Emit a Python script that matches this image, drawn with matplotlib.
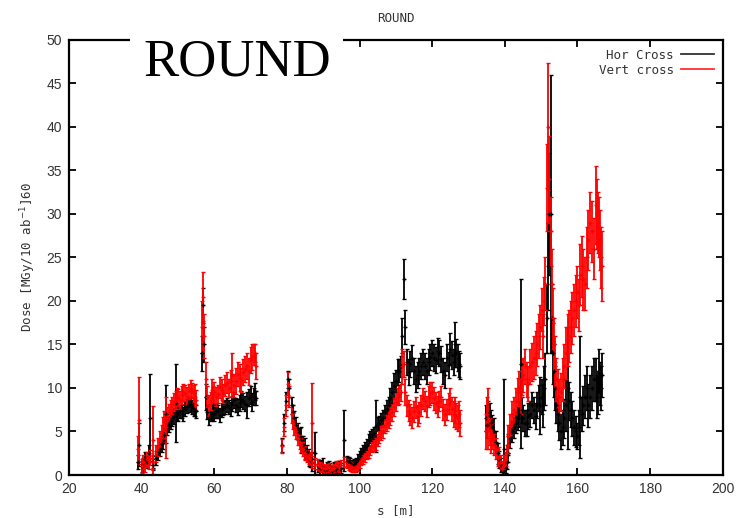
import numpy as np
import matplotlib.pyplot as plt
from matplotlib.lines import Line2D

# position along the beam line [m] -- shared by both series
# (first pass at ~1 m steps, then the in-between readings)
s_pos = [39.0, 39.4, 40.0, 40.5, 41.0, 41.5, 42.0, 42.3, 43.0, 43.2, 44.0, 45.0,
         46.0, 46.6, 47.0, 48.0, 49.0, 49.4, 50.0, 51.0, 52.0, 53.0, 54.0, 54.8,
         56.6, 57.0, 57.3, 57.7, 58.0, 59.0, 59.7, 60.0, 61.0, 62.0, 63.0, 64.0,
         65.0, 66.0, 67.0, 68.0, 69.0, 70.0, 71.0, 71.5,
         78.7, 79.2, 79.7, 80.2, 80.7, 81.3, 82.0, 83.0, 84.0, 85.0, 86.0, 86.8,
         87.0, 87.8, 88.5, 89.0, 90.0, 91.0, 92.0, 93.0, 94.0, 94.8,
         95.7, 96.5, 97.5, 98.5, 99.5, 100.5, 101.5, 102.5, 103.5, 104.5, 105.5,
         106.5, 107.5, 108.5, 109.5, 110.5, 111.3, 111.8, 112.2, 112.6, 113.2,
         114.0, 115.0, 116.0, 117.0, 118.0, 119.0, 120.0, 121.0, 122.0, 123.0,
         124.0, 125.0, 126.0, 126.3, 127.0, 127.6,
         134.8, 135.5, 136.2, 137.0, 138.0, 139.0, 139.5, 139.8, 140.5, 141.0,
         142.0, 143.0, 144.0, 144.4, 145.0, 146.0, 147.0, 148.0, 149.0, 149.6,
         150.2, 150.6, 151.0, 151.5, 151.8, 152.2, 152.7, 153.1, 153.6, 154.2,
         155.0, 156.0, 156.8, 157.4, 158.2, 159.0, 160.0, 160.6, 161.2, 162.0,
         163.0, 164.0, 165.0, 165.6, 166.2, 166.8,
         # in-between readings
         44.5, 45.5, 46.3, 47.5, 48.5, 49.7, 50.5, 51.5, 52.5, 53.5, 54.4, 55.0,
         58.5, 59.3, 60.5, 61.5, 62.5, 63.5, 64.5, 65.5, 66.5, 67.5, 68.5, 69.5,
         70.5, 71.3,
         81.7, 82.5, 83.5, 84.5, 85.5, 86.4, 89.5, 90.5, 91.5, 92.5, 93.5, 94.4,
         97.0, 98.0, 99.0, 100.0, 101.0, 102.0, 103.0, 104.0, 105.0, 106.0,
         107.0, 108.0, 109.0, 110.0, 111.0, 113.6, 114.5, 115.5, 116.5, 117.5,
         118.5, 119.5, 120.5, 121.5, 122.5, 123.5, 124.5, 125.5, 126.6, 127.3,
         135.2, 135.8, 136.6, 137.5, 138.5, 140.2, 140.8, 141.5, 142.5, 143.5,
         144.7, 145.5, 146.5, 147.5, 148.5, 149.3, 150.8, 153.3, 153.9, 154.6,
         155.5, 156.4, 157.8, 158.6, 159.5, 160.3, 161.6, 162.5, 163.5, 164.5,
         165.3, 165.9, 166.5]

hor_cross = [1.5, 3.5, 1.0, 1.2, 1.8, 1.5, 2.5, 6.6, 1.2, 1.5, 2.0, 3.0,
             4.0, 7.0, 5.5, 6.2, 6.8, 8.3, 7.0, 7.3, 7.6, 8.0, 7.8, 7.5,
             14.0, 19.5, 15.0, 9.0, 7.2, 6.8, 8.0, 7.0, 7.3, 7.5, 7.8, 7.8,
             8.2, 8.0, 8.3, 8.5, 8.0, 9.2, 9.0, 8.8,
             3.5, 6.0, 8.5, 11.0, 10.0, 8.0, 6.5, 5.0, 4.0, 3.0, 2.0, 1.8,
             1.5, 2.5, 1.0, 0.8, 0.8, 0.7, 0.6, 0.8, 0.9, 0.8,
             4.0, 1.6, 1.4, 1.3, 1.8, 2.5, 3.2, 4.0, 4.6, 5.6, 6.0,
             6.6, 7.6, 8.8, 10.2, 11.8, 12.5, 16.0, 22.5, 17.0, 13.0,
             12.8, 12.0, 11.5, 12.5, 12.5, 13.0, 14.0, 13.2, 14.0, 12.0,
             13.5, 14.5, 13.0, 15.0, 13.5, 12.5,
             6.5, 7.0, 6.0, 5.0, 2.5, 1.2, 0.4, 3.0, 1.5, 3.5,
             5.0, 6.0, 7.0, 12.8, 6.5, 6.0, 7.0, 7.5, 8.0, 8.0,
             9.0, 8.0, 11.0, 18.0, 24.0, 30.0, 30.0, 18.0, 12.0, 8.0,
             6.0, 5.5, 8.0, 10.0, 7.5, 5.5, 4.5, 9.0, 7.0, 9.0,
             8.0, 10.0, 11.0, 9.5, 10.5, 11.5,
             2.5, 3.6, 4.6, 5.8, 6.5, 7.2, 7.3, 7.0, 7.9, 8.2, 7.6, 7.3,
             6.5, 7.0, 7.4, 6.9, 7.7, 8.0, 7.6, 8.6, 7.8, 8.7, 8.2, 8.9,
             8.4, 9.6,
             7.2, 5.8, 4.4, 3.5, 2.6, 1.7, 1.0, 0.6, 0.9, 0.5, 0.7, 1.0,
             1.5, 1.2, 1.5, 2.2, 2.9, 3.5, 4.4, 4.8, 5.9, 6.3,
             7.2, 8.0, 9.5, 10.8, 12.0, 11.8, 13.4, 11.0, 12.0, 13.0,
             12.0, 13.6, 13.5, 14.3, 13.3, 11.5, 12.6, 13.8, 14.0, 12.8,
             5.8, 6.8, 5.5, 3.8, 1.8, 0.8, 2.5, 4.3, 5.5, 6.5,
             7.5, 6.0, 6.8, 8.0, 6.8, 8.8, 10.0, 14.0, 10.0, 7.0,
             5.0, 6.5, 8.5, 6.5, 5.0, 5.5, 8.0, 10.0, 9.0, 11.0,
             9.0, 12.0, 10.0]
hor_err = [0.8, 2.5, 0.6, 0.7, 0.8, 0.7, 1.0, 5.0, 0.6, 0.7, 0.8, 0.8,
           1.0, 3.3, 0.9, 0.9, 0.9, 4.5, 0.8, 0.8, 0.8, 0.8, 0.8, 0.7,
           2.0, 2.0, 2.0, 1.5, 0.8, 0.6, 1.5, 0.8, 0.8, 0.8, 0.8, 0.8,
           0.9, 0.8, 0.9, 0.9, 1.5, 1.0, 1.0, 0.8,
           0.8, 1.0, 1.0, 1.0, 1.0, 1.0, 0.9, 1.0, 1.5, 1.2, 1.0, 0.8,
           1.0, 2.4, 0.7, 0.8, 1.2, 0.8, 0.8, 0.7, 0.7, 0.6,
           3.5, 0.6, 0.6, 0.5, 0.6, 0.6, 0.6, 0.7, 0.7, 3.0, 0.8,
           0.9, 1.0, 1.2, 1.5, 1.5, 1.2, 2.0, 2.3, 2.0, 1.5,
           1.5, 1.5, 1.5, 1.5, 1.5, 1.5, 1.5, 1.5, 1.5, 1.5,
           1.5, 1.8, 1.5, 2.6, 1.5, 1.5,
           1.5, 1.5, 1.5, 1.5, 1.2, 0.8, 0.4, 8.0, 0.8, 1.2,
           1.2, 1.2, 1.5, 9.7, 1.5, 1.5, 1.5, 1.5, 1.5, 3.3,
           2.0, 2.5, 3.0, 4.0, 5.0, 7.0, 16.0, 4.0, 3.0, 2.0,
           2.0, 2.0, 3.0, 7.0, 2.0, 2.0, 1.5, 7.0, 2.0, 2.5,
           2.5, 2.5, 2.5, 2.5, 2.5, 2.5,
           0.8, 0.9, 0.9, 0.9, 0.9, 0.9, 0.8, 0.8, 0.8, 0.8, 0.8, 0.7,
           0.7, 0.7, 0.8, 0.8, 0.8, 0.8, 0.8, 0.9, 0.9, 0.9, 0.9, 1.0,
           1.0, 1.0,
           0.9, 0.9, 1.0, 1.0, 0.9, 0.8, 0.7, 0.6, 0.7, 0.6, 0.6, 0.6,
           0.6, 0.5, 0.5, 0.6, 0.6, 0.6, 0.7, 0.7, 0.8, 0.8,
           0.9, 1.0, 1.2, 1.3, 1.3, 1.5, 1.5, 1.5, 1.5, 1.5,
           1.5, 1.5, 1.5, 1.5, 1.5, 1.5, 1.5, 1.6, 1.6, 1.5,
           1.5, 1.5, 1.4, 1.3, 1.0, 0.6, 1.0, 1.2, 1.2, 1.3,
           1.5, 1.5, 1.5, 1.5, 1.5, 1.5, 2.5, 3.5, 2.5, 2.0,
           2.0, 2.2, 2.2, 2.0, 1.8, 2.0, 2.2, 2.5, 2.5, 2.5,
           2.5, 2.5, 2.5]

vert_cross = [3.0, 6.3, 1.0, 1.5, 1.2, 1.8, 1.5, 2.0, 1.5, 4.0, 2.5, 4.0,
              5.5, 5.5, 6.8, 7.6, 8.4, 8.6, 8.9, 9.2, 9.4, 9.6, 9.7, 9.0,
              17.0, 20.5, 16.0, 11.0, 9.0, 8.5, 9.2, 9.5, 9.3, 9.8, 10.3, 10.0,
              11.5, 10.8, 11.2, 11.8, 12.5, 13.2, 13.8, 12.5,
              3.3, 5.5, 8.0, 10.5, 9.0, 7.0, 5.5, 4.2, 3.5, 2.5, 2.0, 6.0,
              1.5, 1.3, 1.2, 1.0, 0.8, 0.8, 0.6, 0.8, 1.0, 1.2,
              1.5, 1.3, 1.0, 0.8, 1.0, 1.6, 2.0, 2.6, 3.2, 3.6, 4.4,
              5.0, 6.0, 6.8, 7.8, 9.0, 9.5, 12.5, 12.8, 9.5, 8.0,
              7.0, 7.3, 6.8, 8.0, 8.5, 9.0, 9.5, 8.3, 8.5, 7.5,
              7.5, 8.5, 7.0, 7.5, 6.5, 6.0,
              5.0, 6.5, 4.0, 3.5, 2.0, 1.5, 1.0, 1.5, 2.5, 4.5,
              7.0, 8.5, 10.0, 9.0, 11.5, 11.0, 12.5, 13.5, 15.0, 17.0,
              19.0, 16.0, 22.0, 33.0, 40.0, 34.0, 28.0, 22.0, 15.0, 11.0,
              9.0, 11.0, 14.0, 15.5, 17.0, 19.0, 21.0, 23.0, 24.0, 22.0,
              27.0, 28.0, 31.0, 29.0, 27.0, 24.0,
              3.2, 4.8, 6.2, 7.2, 8.0, 9.0, 8.6, 9.5, 9.1, 9.9, 9.4, 8.6,
              8.0, 9.8, 9.0, 10.1, 9.4, 10.6, 10.8, 10.3, 11.6, 10.9, 12.2, 11.9,
              13.6, 14.0,
              6.2, 5.0, 3.8, 3.0, 2.2, 1.8, 0.9, 0.7, 0.9, 0.7, 1.1, 0.9,
              1.1, 0.9, 0.8, 1.3, 1.8, 2.3, 2.9, 3.4, 4.0, 4.8,
              5.6, 6.3, 7.2, 8.4, 9.2, 7.4, 6.6, 7.8, 7.2, 8.8,
              7.9, 9.4, 8.8, 7.9, 9.0, 7.0, 8.2, 7.6, 6.8, 7.0,
              7.0, 5.0, 4.5, 3.0, 2.2, 1.8, 3.5, 5.8, 7.5, 9.5,
              11.0, 12.5, 10.5, 13.0, 14.0, 16.0, 20.0, 18.0, 13.0, 10.0,
              9.5, 12.5, 16.0, 18.0, 20.0, 19.5, 22.5, 25.0, 29.0, 26.0,
              30.0, 28.5, 25.0]
vert_err = [1.5, 5.0, 0.8, 0.8, 0.8, 0.9, 0.8, 0.9, 0.8, 3.9, 1.0, 1.0,
            1.2, 3.5, 1.0, 1.0, 1.0, 1.0, 1.0, 1.0, 0.9, 0.9, 0.9, 1.5,
            3.0, 2.8, 2.5, 2.0, 1.2, 1.0, 1.0, 1.2, 1.0, 1.2, 1.2, 1.0,
            2.5, 1.5, 1.5, 1.5, 1.5, 1.5, 1.2, 1.5,
            0.8, 1.0, 1.2, 1.3, 1.2, 1.0, 0.9, 0.8, 0.8, 0.8, 0.7, 4.6,
            0.7, 0.6, 0.6, 0.5, 0.5, 0.5, 0.5, 0.5, 0.5, 0.5,
            0.6, 0.5, 0.5, 0.5, 0.5, 0.5, 0.5, 0.6, 0.6, 0.7, 0.7,
            0.8, 0.9, 1.0, 1.0, 1.0, 1.0, 2.0, 1.5, 1.5, 1.2,
            1.2, 1.2, 1.2, 1.2, 1.2, 1.2, 1.2, 1.2, 1.2, 1.2,
            1.2, 1.5, 1.5, 1.5, 1.5, 1.5,
            2.0, 3.5, 1.5, 1.2, 1.0, 0.8, 0.6, 0.8, 1.0, 1.2,
            1.5, 1.5, 2.0, 2.0, 2.0, 2.0, 2.0, 2.5, 2.5, 2.5,
            2.5, 2.5, 3.0, 5.0, 7.3, 5.0, 4.0, 4.0, 3.0, 2.5,
            2.0, 2.5, 3.0, 3.0, 3.0, 3.0, 3.0, 3.5, 3.5, 3.0,
            3.5, 3.5, 4.5, 3.5, 3.5, 4.0,
            1.0, 1.0, 1.1, 1.0, 1.0, 1.0, 1.0, 1.0, 1.0, 1.0, 1.0, 1.2,
            1.2, 1.2, 1.1, 1.2, 1.1, 1.2, 1.3, 1.3, 1.4, 1.4, 1.5, 1.5,
            1.5, 1.0,
            0.9, 0.9, 0.8, 0.8, 0.7, 0.7, 0.5, 0.5, 0.5, 0.5, 0.5, 0.5,
            0.5, 0.5, 0.5, 0.5, 0.5, 0.5, 0.6, 0.6, 0.7, 0.8,
            0.8, 0.9, 1.0, 1.0, 1.0, 1.2, 1.2, 1.2, 1.2, 1.2,
            1.2, 1.3, 1.3, 1.2, 1.2, 1.2, 1.2, 1.4, 1.5, 1.5,
            2.0, 1.5, 1.5, 1.2, 1.0, 0.8, 1.0, 1.2, 1.5, 1.6,
            1.8, 2.0, 2.0, 2.2, 2.5, 2.5, 2.8, 3.5, 3.0, 2.2,
            2.2, 2.5, 3.0, 3.0, 3.0, 3.0, 3.5, 3.5, 3.5, 3.5,
            4.0, 3.5, 3.5]

x_ticks = [20, 40, 60, 80, 100, 120, 140, 160, 180, 200]
y_ticks = [0, 5, 10, 15, 20, 25, 30, 35, 40, 45, 50]

fig = plt.figure(figsize=(7.37, 5.18), dpi=100)
ax = fig.add_axes([0.0936, 0.083, 0.887, 0.840])

ax.errorbar(s_pos, hor_cross, yerr=hor_err, fmt='+', color='black', ms=3,
            mew=1.0, elinewidth=1.3, capsize=1.7, capthick=1.1)
ax.errorbar(s_pos, vert_cross, yerr=vert_err, fmt='+', color='#ff0000', ms=3,
            mew=1.0, elinewidth=1.3, capsize=1.7, capthick=1.1)

ax.set_xlim(20, 200)
ax.set_ylim(0, 50)
ax.set_xticks(x_ticks)
ax.set_yticks(y_ticks)
ax.tick_params(direction='in', length=5, width=1.3, top=True, right=True,
               labelsize=10, labelcolor='#333333', pad=5)
for lab in ax.get_xticklabels() + ax.get_yticklabels():
    lab.set_family('Liberation Sans')
for sp in ax.spines.values():
    sp.set_linewidth(1.6)

ax.set_xlabel('s [m]', family='DejaVu Sans Mono', fontsize=9, color='#333333', labelpad=6)
ax.set_ylabel('Dose [MGy/10 ab$^{-1}$]60', family='DejaVu Sans Mono', fontsize=9,
              color='#333333', labelpad=6)
ax.set_title('ROUND', family='DejaVu Sans Mono', fontsize=9, color='#333333', pad=13)

handles = [Line2D([], [], color='#333333', lw=1.3),
           Line2D([], [], color='#ff3030', lw=1.3)]
leg = ax.legend(handles, ['Hor Cross', 'Vert cross'], loc='upper right',
                frameon=False, markerfirst=False, handlelength=2.6,
                prop={'family': 'DejaVu Sans Mono', 'size': 9},
                borderaxespad=0.3, labelspacing=0.15, handletextpad=0.6)
for t in leg.get_texts():
    t.set_color('#333333')

# big overlay label pasted on the slide
fig.text(0.194, 0.855, 'ROUND', family='Liberation Serif', fontsize=38,
         color='black', ha='left', va='baseline',
         bbox=dict(facecolor='white', edgecolor='none', pad=9))

fig.savefig('out.png', dpi=100)
